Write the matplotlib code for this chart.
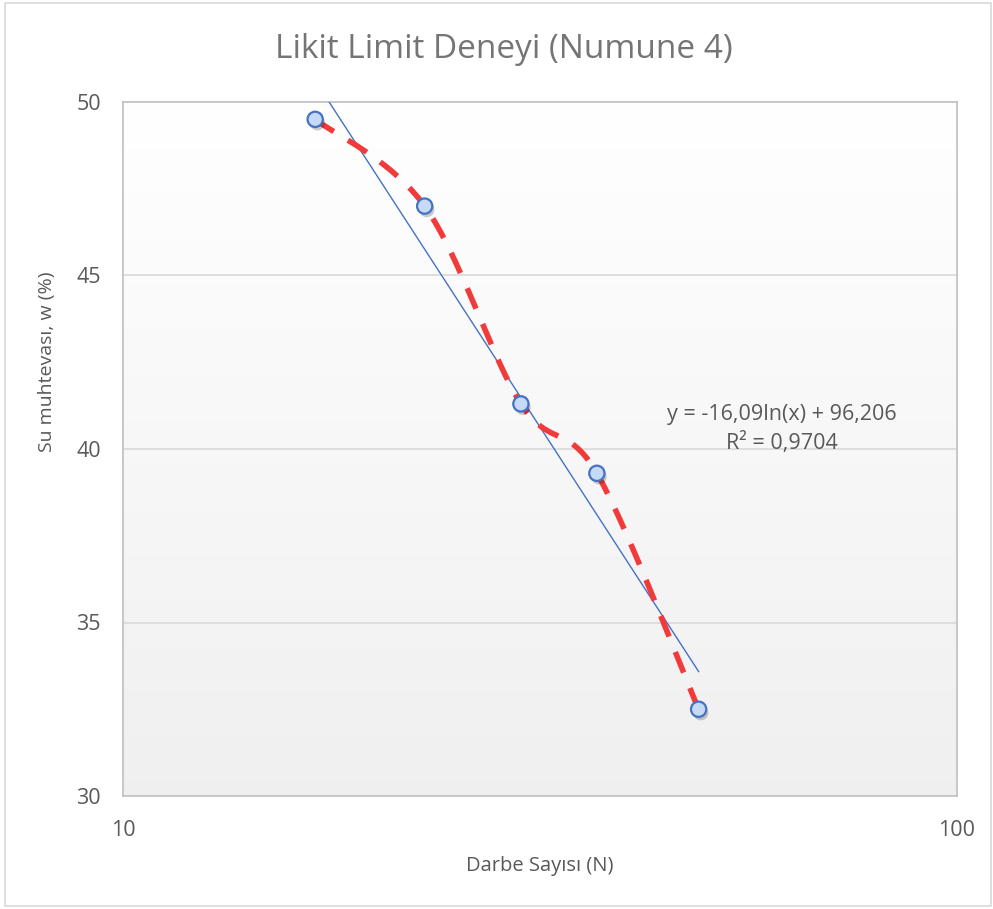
import numpy as np
import matplotlib
matplotlib.use('Agg')
import matplotlib.pyplot as plt
import matplotlib.patheffects as pe
from matplotlib.patches import Rectangle
from matplotlib.transforms import blended_transform_factory

plt.rcParams['font.family'] = ['Open Sans', 'DejaVu Sans']

# Darbe sayisi (N) and su muhtevasi w (%)
blows = [17, 23, 30, 37, 49]
water = [49.5, 47.0, 41.3, 39.3, 32.5]

title = 'Likit Limit Deneyi (Numune 4)'
xlabel = 'Darbe Sayısı (N)'
ylabel = 'Su muhtevası, w (%)'
eq_text = 'y = -16,09ln(x) + 96,206\nR² = 0,9704'
fit_a = -16.09
fit_b = 96.206

x_lim = (10, 100)
y_lim = (30, 50)
y_ticks = [30, 35, 40, 45, 50]
x_ticks = [10, 100]

blue = '#4472C4'
red = '#F23A3A'
txt_gray = '#595959'


def smooth_curve(xs, ys, n=40):
    # excel-like smoothed line (bezier, catmull-rom control points)
    # done in screen-like units: log x, scaled y
    u = np.log10(xs) * 834.0
    v = np.asarray(ys) * 694.0 / 20.0
    P = np.column_stack([u, v])
    pts = []
    for i in range(len(P) - 1):
        p0 = P[i - 1] if i > 0 else P[i]
        p1 = P[i]
        p2 = P[i + 1]
        p3 = P[i + 2] if i + 2 < len(P) else P[i + 1]
        c1 = p1 + (p2 - p0) / 6.0
        c2 = p2 - (p3 - p1) / 6.0
        t = np.linspace(0, 1, n)[:, None]
        seg = ((1 - t) ** 3) * p1 + 3 * ((1 - t) ** 2) * t * c1 + 3 * (1 - t) * t ** 2 * c2 + t ** 3 * p2
        if i > 0:
            seg = seg[1:]
        pts.append(seg)
    pts = np.vstack(pts)
    return 10 ** (pts[:, 0] / 834.0), pts[:, 1] * 20.0 / 694.0


fig = plt.figure(figsize=(9.93, 9.09), dpi=100)
fig.patches.append(Rectangle((5 / 993, 3 / 909), 986 / 993, 903 / 909, transform=fig.transFigure,
                             fill=False, edgecolor='#D9D9D9', lw=1.2))

ax = fig.add_axes([123 / 993, 1 - 796 / 909, 834 / 993, 694 / 909])

# gradient background
grad = np.linspace(1.0, 0.94, 256)[:, None]
ax.imshow(np.dstack([grad, grad, grad]), extent=[0, 1, 0, 1], transform=ax.transAxes,
          aspect='auto', zorder=0, interpolation='bicubic')

ax.set_xscale('log')
ax.set_xlim(x_lim)
ax.set_ylim(y_lim)
ax.set_yticks(y_ticks)
ax.set_xticks(x_ticks)
ax.set_xticklabels([str(v) for v in x_ticks])
ax.xaxis.set_minor_locator(matplotlib.ticker.NullLocator())
ax.tick_params(length=0, labelsize=15.5, colors=txt_gray)
ax.tick_params(axis='y', pad=16)
ax.tick_params(axis='x', pad=17)
for sp in ax.spines.values():
    sp.set_color('#BFBFBF')
    sp.set_linewidth(1.2)

for yv in y_ticks[1:-1]:
    ax.axhline(yv, color='#D9D9D9', lw=1.2, zorder=1)

# trendline
xt = np.linspace(min(blows), max(blows), 200)
ax.plot(xt, fit_a * np.log(xt) + fit_b, color=blue, lw=1.0, zorder=3)

# smoothed dashed line
sx, sy = smooth_curve(blows, water)
ax.plot(sx, sy, color=red, lw=4.0, dashes=(4, 3), solid_capstyle='butt', zorder=4)

# markers
ax.plot(blows, water, 'o', ms=11, mfc='#C6DAF8', mec=blue, mew=1.6, zorder=5,
        path_effects=[pe.SimplePatchShadow(offset=(1.5, -2.5), alpha=0.2, shadow_rgbFace='k'), pe.Normal()])

tr = blended_transform_factory(ax.transAxes, ax.transData)
ax.text((782 - 123) / 834, 40.58, eq_text, ha='center', va='center', fontsize=15.5, color=txt_gray,
        linespacing=1.45, transform=tr, zorder=6)

fig.text(504 / 993, 1 - 49 / 909, title, ha='center', va='center', fontsize=24, color='#757575')
fig.text(540 / 993, 1 - 866 / 909, xlabel, ha='center', va='center', fontsize=14.5, color=txt_gray)
fig.text(47 / 993, 1 - 362 / 909, ylabel, ha='center', va='center', fontsize=14, color=txt_gray,
         rotation=90)

fig.savefig('out.png', dpi=100)
